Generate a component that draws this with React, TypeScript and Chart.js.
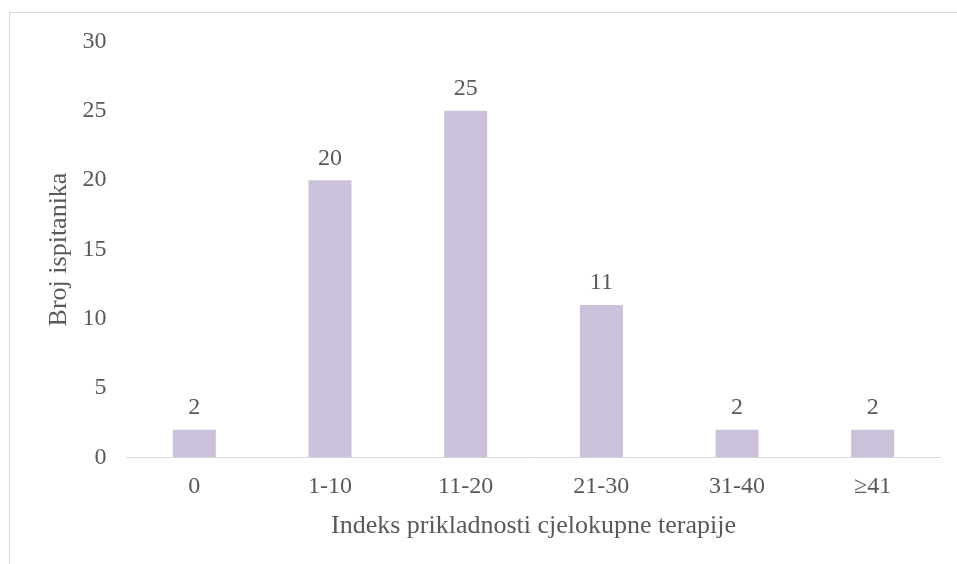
import React, { useEffect, useRef } from "react";
import { Chart, registerables } from "chart.js";

Chart.register(...registerables);

const categories = ["0", "1-10", "11-20", "21-30", "31-40", "≥41"];
const counts = [2, 20, 25, 11, 2, 2];
const yTicks = [0, 5, 10, 15, 20, 25, 30];
const xTitle = "Indeks prikladnosti cjelokupne terapije";
const yTitle = "Broj ispitanika";

const FONT = "'Liberation Serif', 'Times New Roman', serif";
const TEXT = "#595959";
const TICK_SIZE = 24;
const TITLE_SIZE = 26;

const frame = {
  id: "frame",
  beforeDraw(chart: any) {
    const ctx = chart.ctx;
    ctx.save();
    ctx.fillStyle = "#ffffff";
    ctx.fillRect(0, 0, chart.width, chart.height);
    ctx.strokeStyle = "#d9d9d9";
    ctx.lineWidth = 1;
    ctx.strokeRect(9.5, 12.5, 3000, 3000);
    ctx.restore();
  },
};

const valueLabels = {
  id: "valueLabels",
  afterDatasetsDraw(chart: any) {
    const ctx = chart.ctx;
    const meta = chart.getDatasetMeta(0);
    ctx.save();
    ctx.font = `${TICK_SIZE}px ${FONT}`;
    ctx.fillStyle = TEXT;
    ctx.textAlign = "center";
    ctx.textBaseline = "alphabetic";
    meta.data.forEach((bar: any, i: number) => {
      ctx.fillText(String(counts[i]), bar.x, bar.y - 15.5);
    });
    ctx.restore();
  },
};

export default function App() {
  const ref = useRef<HTMLCanvasElement>(null);
  useEffect(() => {
    if (!ref.current) return;
    const chart = new Chart(ref.current, {
      type: "bar",
      data: {
        labels: categories,
        datasets: [
          {
            data: counts,
            backgroundColor: "#CCC1DA",
            borderWidth: 0,
            barPercentage: 0.317,
            categoryPercentage: 1,
          },
        ],
      },
      options: {
        responsive: false,
        animation: false,
        devicePixelRatio: 1,
        layout: { padding: { top: 41.5, right: 16.5, left: 0, bottom: 0 } },
        plugins: {
          legend: { display: false },
          tooltip: { enabled: false },
        },
        scales: {
          x: {
            grid: { display: false, drawTicks: false },
            border: { display: true, color: "#d9d9d9", width: 1 },
            ticks: {
              color: TEXT,
              font: { family: FONT, size: TICK_SIZE },
              padding: 15,
              maxRotation: 0,
            },
            title: {
              display: true,
              text: xTitle,
              color: TEXT,
              font: { family: FONT, size: TITLE_SIZE },
              padding: { top: 0, bottom: 22 },
            },
            afterFit(scale: any) {
              scale.height = 106.5;
            },
          },
          y: {
            min: 0,
            max: 30,
            afterBuildTicks(scale: any) {
              scale.ticks = yTicks.map((v) => ({ value: v }));
            },
            grid: { display: false, drawTicks: false },
            border: { display: false },
            ticks: {
              color: TEXT,
              font: { family: FONT, size: TICK_SIZE },
              padding: 20,
            },
            title: {
              display: true,
              text: yTitle,
              color: TEXT,
              font: { family: FONT, size: TITLE_SIZE },
              padding: { top: 44, bottom: 0 },
            },
            afterFit(scale: any) {
              scale.width = 126.5;
            },
          },
        },
      },
      plugins: [frame, valueLabels],
    });
    return () => chart.destroy();
  }, []);
  return (
    <canvas
      ref={ref}
      width={957}
      height={564}
      style={{ position: "fixed", left: 0, top: 0, width: 957, height: 564 }}
    />
  );
}
